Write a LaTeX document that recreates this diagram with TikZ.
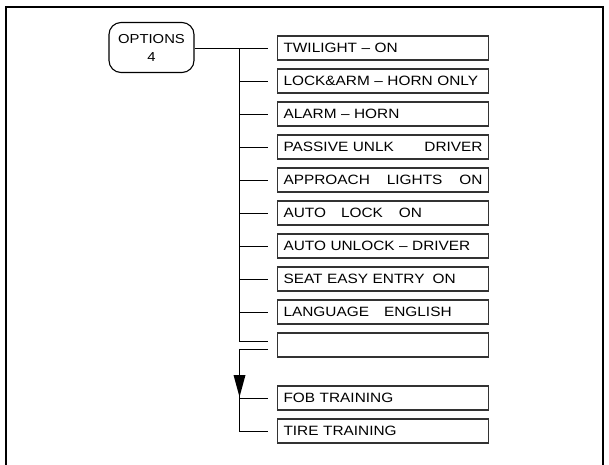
\documentclass[tikz,border=0pt]{standalone}
\usepackage{fontspec}
\newfontfamily\hv[FakeStretch=1.14]{Liberation Sans}
\begin{document}
\begin{tikzpicture}[x=1pt,y=-1pt,
  item/.style={draw=black!80,line width=1.1pt,rectangle,anchor=west,
    minimum width=211pt,minimum height=24pt,inner xsep=6pt,inner ysep=0pt,
    text width=199pt,align=left,font=\hv\fontsize{13.5}{15}\selectfont},
  conn/.style={draw=black,line width=1pt},
  frame/.style={draw=black,line width=2pt}]
\useasboundingbox (0,0) rectangle (609,464);
\draw[frame] (6,465) -- (6,7) -- (603,7) -- (603,465);
\node[draw=black,line width=1.1pt,rounded corners=12pt,minimum width=85pt,minimum height=50pt,
  align=center,inner sep=0pt,font=\hv\fontsize{13}{18}\selectfont] (opt) at (151.5,47.5) {OPTIONS\\4};
\node[item] (tw) at (277,48) {TWILIGHT \textendash\ ON};
\node[item] (lk) at (277,81) {LOCK\&ARM \textendash\ HORN ONLY};
\node[item] (al) at (277,114) {ALARM \textendash\ HORN};
\node[item] (pa) at (277,147) {PASSIVE UNLK\hfill DRIVER};
\node[item] (ap) at (277,180) {APPROACH\hfill LIGHTS\hfill ON};
\node[item] (alk) at (277,213) {AUTO\hspace{15pt}LOCK\hspace{16pt}ON};
\node[item] (au) at (277,246) {AUTO UNLOCK \textendash\ DRIVER};
\node[item] (se) at (277,279) {SEAT EASY ENTRY\hspace{8pt}ON};
\node[item] (la) at (277,312) {LANGUAGE\hspace{15pt}ENGLISH};
\node[item] (em) at (277,345) {};
\node[item] (fob) at (277,398) {FOB TRAINING};
\node[item] (ti) at (277,431) {TIRE TRAINING};
\coordinate (t0) at (239.5,48);
\coordinate (t1) at (239.5,341);
\coordinate (t2) at (239.5,349);
\coordinate (t3) at (239.5,431);
\draw[conn] (opt.east |- tw.west) -- ([xshift=-9pt]tw.west);
\draw[conn] (t0) -- (t1) -- ([xshift=-9pt]em.west |- t1);
\foreach \n in {lk,al,pa,ap,alk,au,se,la}
  \draw[conn] (t0 |- \n.west) -- ([xshift=-9pt]\n.west);
\draw[conn] ([xshift=-9pt]em.west |- t2) -- (t2) -- (t3) -- ([xshift=-9pt]ti.west);
\draw[conn] (t0 |- fob.west) -- ([xshift=-9pt]fob.west);
\fill[black] (233.5,375) -- (245.5,375) -- (239.5,397) -- cycle;
\end{tikzpicture}
\end{document}
